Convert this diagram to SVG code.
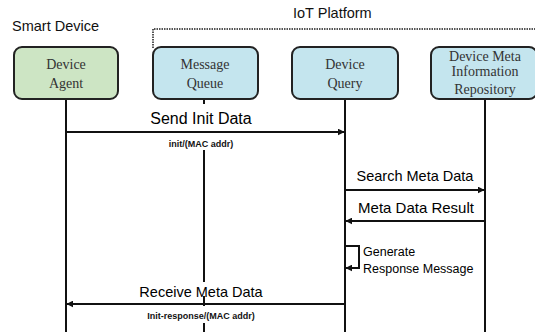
<svg xmlns="http://www.w3.org/2000/svg" width="535" height="334" viewBox="0 0 535 334">
<defs>
<style>
.box{stroke:#222;stroke-width:2}
.green{fill:#cde5c4}
.blue{fill:#c4e5ee}
.bt{font-family:"Liberation Serif","DejaVu Serif",serif;font-size:14px;fill:#333;text-anchor:middle}
.life{stroke:#111;stroke-width:2;fill:none}
.msg{stroke:#111;stroke-width:2;fill:none}
.lbl{font-family:"Liberation Sans","DejaVu Sans",sans-serif;font-size:14.5px;fill:#000;text-anchor:middle}
.note{font-family:"Liberation Sans","DejaVu Sans",sans-serif;font-size:12.5px;fill:#000}
.sm{font-family:"Liberation Sans","DejaVu Sans",sans-serif;font-size:9px;font-weight:bold;fill:#111;text-anchor:middle}
.grp{font-family:"Liberation Sans","DejaVu Sans",sans-serif;font-size:14.5px;fill:#111}
</style>
<marker id="ah" viewBox="0 0 10 10" refX="9" refY="5" markerWidth="7" markerHeight="7" markerUnits="userSpaceOnUse" orient="auto">
<path d="M0,0 L10,5 L0,10 Z" fill="#111"/>
</marker>
</defs>
<rect width="535" height="334" fill="#fff"/>
<text class="grp" x="12" y="31">Smart Device</text>
<text class="grp" x="293" y="18">IoT Platform</text>
<path d="M153,48 V29 H535" stroke="#555" stroke-width="2" stroke-dasharray="1.5,1" fill="none"/>
<g id="connectors">
<line class="life" x1="66" y1="99" x2="66" y2="332"/>
<path class="life" d="M204,99 V104 M204,131 V133 M204,150 V282 M204,296 V306 M204,323 V332"/>
<line class="life" x1="345" y1="99" x2="345" y2="332"/>
<line class="life" x1="485" y1="99" x2="485" y2="332"/>
<line class="msg" x1="66" y1="132" x2="344" y2="132" marker-end="url(#ah)"/>
<line class="msg" x1="345" y1="190" x2="484" y2="190" marker-end="url(#ah)"/>
<line class="msg" x1="485" y1="221" x2="346" y2="221" marker-end="url(#ah)"/>
<path class="msg" d="M345,246 H359 V268 H346" marker-end="url(#ah)"/>
<line class="msg" x1="345" y1="304" x2="67" y2="304" marker-end="url(#ah)"/>
<text class="lbl" x="201" y="124" style="font-size:16px">Send Init Data</text>
<text class="sm" x="201" y="147">init/(MAC addr)</text>
<text class="lbl" x="415" y="181">Search Meta Data</text>
<text class="lbl" x="416" y="213" style="font-size:15px">Meta Data Result</text>
<text class="note" x="363" y="256">Generate</text>
<text class="note" x="363" y="273">Response Message</text>
<text class="lbl" x="201" y="297">Receive Meta Data</text>
<text class="sm" x="201" y="319">Init-response/(MAC addr)</text>
</g>
<g id="device-agent">
<rect class="box green" x="14" y="47" width="104" height="52" rx="8"/>
<text class="bt" x="66" y="69">Device</text>
<text class="bt" x="66" y="88">Agent</text>
</g>
<g id="message-queue">
<rect class="box blue" x="153" y="47" width="105" height="52" rx="8"/>
<text class="bt" x="205" y="69">Message</text>
<text class="bt" x="205" y="88">Queue</text>
</g>
<g id="device-query">
<rect class="box blue" x="292" y="47" width="106" height="52" rx="8"/>
<text class="bt" x="345" y="69">Device</text>
<text class="bt" x="345" y="88">Query</text>
</g>
<g id="meta-repository">
<rect class="box blue" x="431" y="47" width="106" height="52" rx="8"/>
<text class="bt" x="485" y="61">Device Meta</text>
<text class="bt" x="485" y="76">Information</text>
<text class="bt" x="485" y="94">Repository</text>
</g>
</svg>
